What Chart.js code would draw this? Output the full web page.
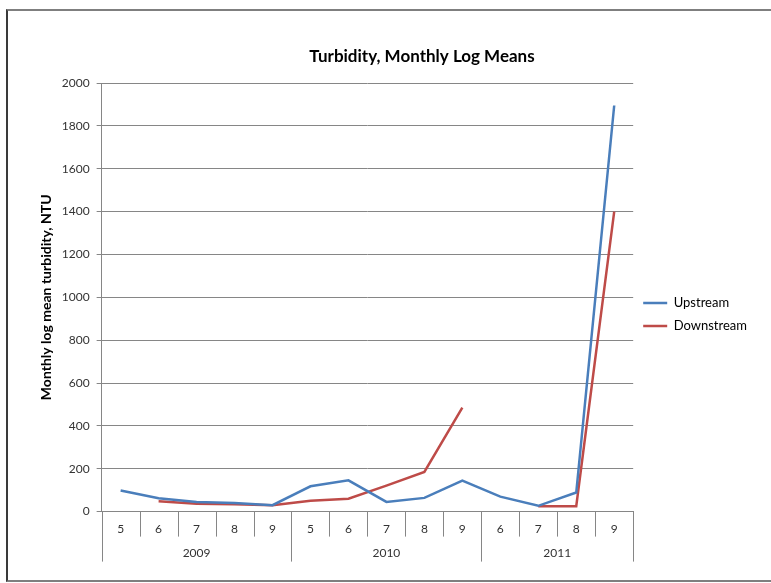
<!DOCTYPE html>
<html>
<head>
<meta charset="utf-8">
<title>Turbidity, Monthly Log Means</title>
<script src="https://cdn.jsdelivr.net/npm/chart.js@4.4.0/dist/chart.umd.min.js"></script>
<style>
  body { margin: 0; background: #fff; }
  #frame {
    position: absolute; left: 6px; top: 9px; width: 820px; height: 569px;
    border-top: 2px solid #7f7f7f; border-left: 2px solid #3a3a3a; border-bottom: 2px solid #7f7f7f;
  }
  #wrap { position: absolute; left: 0; top: 0; width: 771px; height: 583px; overflow: hidden; }
  canvas { position: absolute; left: 0; top: 0; }
</style>
</head>
<body>
<div id="wrap">
  <div id="frame"></div>
  <canvas id="myChart" width="771" height="583"></canvas>
</div>
<script>
// month of each sample, grouped by year underneath
const months = ['5', '6', '7', '8', '9', '5', '6', '7', '8', '9', '6', '7', '8', '9'];
const years = ['2009', '2010', '2011'];
const yearSpans = [5, 5, 4];

const upstream = [98, 62, 45, 40, 30, 118, 146, 45, 64, 145, 70, 27, 89, 1895];
const downstream = [null, 48, 37, 34, 30, 51, 60, 121, 185, 485, null, 25, 25, 1400];

const chartTitle = 'Turbidity, Monthly Log Means';

const gridGrey = '#868686';
const font = 'Lato, "Liberation Sans", sans-serif';

// the frame runs past the right edge of the page, title is centred on the frame
const frameLeft = 7;
const frameRight = 837;

const titleText = {
    id: 'titleText',
    afterDraw(chart) {
        const ctx = chart.ctx;
        ctx.save();
        ctx.fillStyle = '#000';
        ctx.font = 'bold 17px ' + font;
        ctx.textAlign = 'center';
        ctx.textBaseline = 'middle';
        ctx.fillText(chartTitle, (frameLeft + frameRight) / 2, 57);
        ctx.restore();
    }
};

// draws the month dividers and the year row below the x axis
const yearAxis = {
    id: 'yearAxis',
    afterDraw(chart) {
        const x = chart.scales.x;
        const ctx = chart.ctx;
        const top = chart.chartArea.bottom;
        const edges = [0];
        yearSpans.forEach(n => edges.push(edges[edges.length - 1] + n));

        ctx.save();
        ctx.strokeStyle = gridGrey;
        ctx.lineWidth = 1;
        ctx.beginPath();
        for (let i = 0; i <= months.length; i++) {
            const px = Math.round(x.getPixelForValue(i - 0.5)) + 0.5;
            const len = edges.includes(i) ? 50 : 25;
            ctx.moveTo(px, top);
            ctx.lineTo(px, top + len);
        }
        ctx.stroke();

        ctx.fillStyle = '#333';
        ctx.font = '12px ' + font;
        ctx.textAlign = 'center';
        ctx.textBaseline = 'middle';
        years.forEach((yr, k) => {
            const a = x.getPixelForValue(edges[k] - 0.5);
            const b = x.getPixelForValue(edges[k + 1] - 0.5);
            ctx.fillText(yr, (a + b) / 2, top + 42);
        });
        ctx.restore();
    }
};

const ctx = document.getElementById('myChart').getContext('2d');
const myChart = new Chart(ctx, {
    type: 'line',
    data: {
        labels: months,
        datasets: [{
            label: 'Upstream',
            data: upstream,
            borderColor: '#4a7ebb',
            backgroundColor: '#4a7ebb',
            borderWidth: 2.5,
        }, {
            label: 'Downstream',
            data: downstream,
            borderColor: '#be4b48',
            backgroundColor: '#be4b48',
            borderWidth: 2.5,
        }]
    },
    options: {
        responsive: false,
        animation: false,
        spanGaps: false,
        elements: {
            point: { radius: 0 },
            line: { tension: 0 }
        },
        layout: {
            padding: { left: 38, right: 14, top: 83, bottom: 37 }
        },
        plugins: {
            title: { display: false },
            legend: {
                position: 'right',
                labels: {
                    usePointStyle: true,
                    pointStyle: 'line',
                    pointStyleWidth: 24,
                    color: '#000',
                    font: { family: font, size: 13 },
                    padding: 10
                }
            },
            tooltip: { enabled: false }
        },
        scales: {
            x: {
                offset: true,
                grid: { display: true, drawOnChartArea: false, drawTicks: false },
                border: { color: gridGrey },
                ticks: {
                    color: '#333',
                    font: { family: font, size: 12 },
                    padding: 10,
                    maxRotation: 0,
                    autoSkip: false
                }
            },
            y: {
                min: 0,
                max: 2000,
                ticks: {
                    stepSize: 200,
                    color: '#333',
                    font: { family: font, size: 12 },
                    padding: 7,
                    callback: v => String(v)
                },
                grid: { color: gridGrey, tickLength: 5 },
                border: { color: gridGrey },
                title: {
                    display: true,
                    text: 'Monthly log mean turbidity, NTU',
                    color: '#000',
                    font: { family: font, size: 14, weight: 'bold' },
                    padding: { top: 0, bottom: 0 }
                }
            }
        }
    },
    plugins: [yearAxis, titleText]
});
</script>
</body>
</html>
